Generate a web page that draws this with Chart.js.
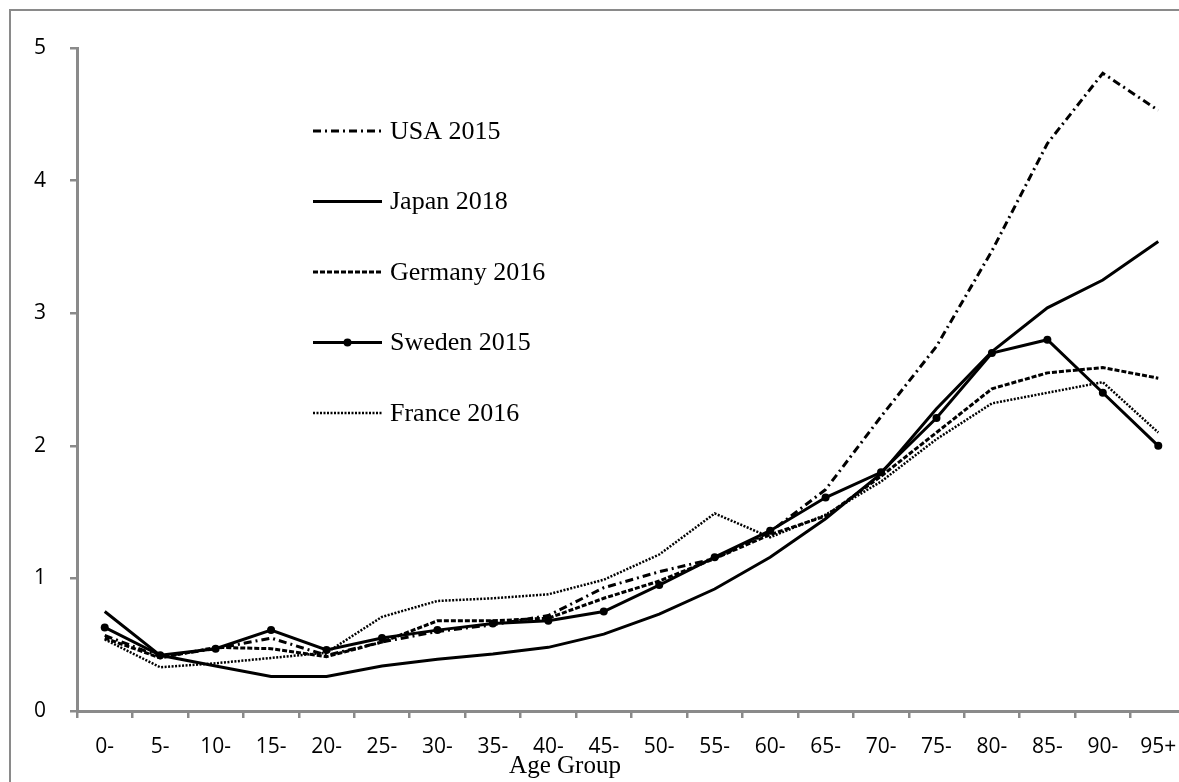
<!DOCTYPE html>
<html>
<head>
<meta charset="utf-8">
<script src="https://cdn.jsdelivr.net/npm/chart.js@4/dist/chart.umd.min.js"></script>
<style>
  html, body { margin: 0; padding: 0; overflow: hidden; background: #fff; width: 1179px; height: 782px; }
  #frame { position: absolute; left: 9px; top: 9px; width: 1200px; height: 800px; border: 2.5px solid #8a8a8a; box-sizing: border-box; }
  #wrap { position: absolute; left: 0; top: 0; width: 1200px; height: 800px; }
</style>
</head>
<body>
<div id="frame"></div>
<div id="wrap"><canvas id="c" width="1200" height="800"></canvas></div>
<script>
// ---- data ----
const categories = ['0-','5-','10-','15-','20-','25-','30-','35-','40-','45-','50-','55-','60-','65-','70-','75-','80-','85-','90-','95+'];
const usa2015     = [0.57,0.41,0.47,0.55,0.42,0.52,0.60,0.65,0.72,0.93,1.05,1.15,1.35,1.67,2.22,2.75,3.47,4.28,4.81,4.53];
const japan2018   = [0.75,0.42,0.34,0.26,0.26,0.34,0.39,0.43,0.48,0.58,0.73,0.92,1.16,1.45,1.79,2.28,2.71,3.04,3.25,3.54];
const germany2016 = [0.55,0.40,0.48,0.47,0.41,0.52,0.68,0.68,0.70,0.85,0.98,1.15,1.33,1.47,1.77,2.10,2.43,2.55,2.59,2.51];
const sweden2015  = [0.63,0.42,0.47,0.61,0.46,0.55,0.61,0.66,0.68,0.75,0.95,1.16,1.36,1.61,1.80,2.21,2.70,2.80,2.40,2.00];
const france2016  = [0.54,0.33,0.36,0.40,0.44,0.71,0.83,0.85,0.88,0.99,1.18,1.49,1.31,1.48,1.73,2.05,2.32,2.40,2.48,2.10];
const seriesNames = ['USA 2015','Japan 2018','Germany 2016','Sweden 2015','France 2016'];
const xTitle = 'Age Group';

const AXIS = '#8a8a8a';
const styles = [
  { dash: [8,4,2,4], width: 3, radius: 0 },
  { dash: [], width: 3, radius: 0 },
  { dash: [5,2], width: 3, radius: 0 },
  { dash: [], width: 3, radius: 4 },
  { dash: [2,1.5], width: 2.5, radius: 0 }
];
const seriesData = [usa2015, japan2018, germany2016, sweden2015, france2016];

const datasets = seriesData.map((d, i) => ({
  label: seriesNames[i],
  data: d,
  borderColor: '#000',
  backgroundColor: '#000',
  borderWidth: styles[i].width,
  borderDash: styles[i].dash,
  pointRadius: styles[i].radius,
  pointHoverRadius: styles[i].radius,
  pointBackgroundColor: '#000',
  pointBorderColor: '#000',
  pointBorderWidth: 0,
  tension: 0,
  fill: false
}));

Chart.defaults.font.family = 'Open Sans';
Chart.defaults.font.size = 21;
Chart.defaults.color = '#000';

const overlayPlugin = {
  id: 'overlay',
  afterDraw(chart) {
    const ctx = chart.ctx;
    const a = chart.chartArea;
    ctx.save();
    // legend
    const lx0 = a.left + 236, lx1 = a.left + 305, tx = a.left + 313;
    const ly0 = 131, dy = 70.5;
    seriesNames.forEach((name, i) => {
      const y = ly0 + dy * i;
      ctx.strokeStyle = '#000';
      ctx.lineWidth = styles[i].width;
      ctx.setLineDash(styles[i].dash);
      ctx.beginPath();
      ctx.moveTo(lx0, y);
      ctx.lineTo(lx1, y);
      ctx.stroke();
      ctx.setLineDash([]);
      if (styles[i].radius) {
        ctx.fillStyle = '#000';
        ctx.beginPath();
        ctx.arc((lx0 + lx1) / 2, y, styles[i].radius, 0, Math.PI * 2);
        ctx.fill();
      }
      ctx.fillStyle = '#000';
      ctx.font = '26px "Liberation Serif"';
      ctx.textBaseline = 'middle';
      ctx.textAlign = 'left';
      ctx.fillText(name, tx, y + 1);
    });
    // x axis title
    ctx.font = '25px "Liberation Serif"';
    ctx.textAlign = 'center';
    ctx.textBaseline = 'middle';
    ctx.fillText(xTitle, a.left + 488, 766);
    ctx.restore();
  }
};

new Chart(document.getElementById('c'), {
  type: 'line',
  data: { labels: categories, datasets },
  options: {
    responsive: false,
    animation: false,
    devicePixelRatio: 1,
    layout: { padding: { left: 0, right: 14, top: 48, bottom: 29 } },
    plugins: { legend: { display: false }, tooltip: { enabled: false }, title: { display: false } },
    scales: {
      x: {
        type: 'category',
        offset: true,
        grid: { offset: true, drawOnChartArea: false, drawTicks: true, tickLength: 7, color: AXIS, lineWidth: 2.5 },
        border: { display: true, color: AXIS, width: 3 },
        ticks: { autoSkip: false, maxRotation: 0, minRotation: 0, padding: 16, color: '#000',
                 font: { family: 'Open Sans', size: 21 } },
        afterFit(s) { s.height = 60; }
      },
      y: {
        min: 0, max: 5,
        grid: { drawOnChartArea: false, drawTicks: true, tickLength: 7, color: AXIS, lineWidth: 2.5 },
        border: { display: true, color: AXIS, width: 3 },
        ticks: { stepSize: 1, padding: 24, color: '#000',
                 font: { family: 'Open Sans', size: 21 } },
        afterFit(s) { s.width = 77; }
      }
    }
  },
  plugins: [overlayPlugin]
});
</script>
</body>
</html>
